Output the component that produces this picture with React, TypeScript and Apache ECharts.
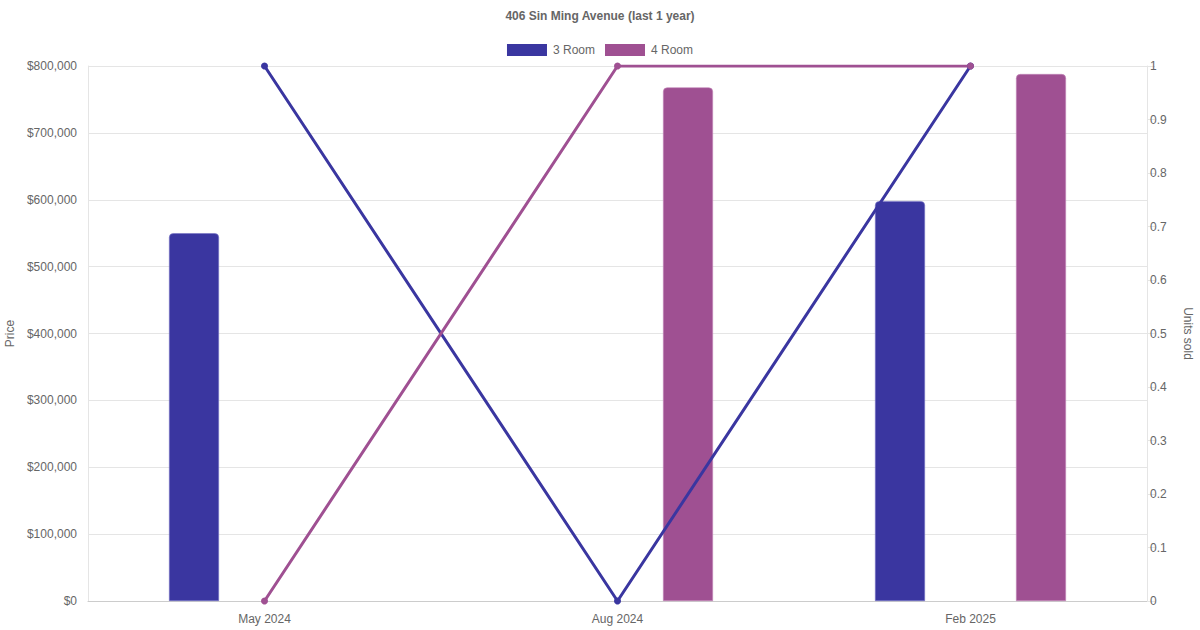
import React, { useEffect, useRef } from "react";
import * as echarts from "echarts";

const categories = ["May 2024", "Aug 2024", "Feb 2025"];
const price3Room: (number | null)[] = [550000, null, 598000];
const price4Room: (number | null)[] = [null, 768000, 788000];
const units3Room = [1, 0, 1];
const units4Room = [0, 1, 1];
const seriesNames = ["3 Room", "4 Room"];

const BLUE = "#3a36a0";
const PURPLE = "#9f5092";
const FONT = "'Liberation Sans', Arial, Helvetica, sans-serif";

export default function App() {
  const ref = useRef<HTMLDivElement>(null);
  useEffect(() => {
    document.body.style.margin = "0";
    if (!ref.current) return;
    const chart = echarts.init(ref.current, undefined, { renderer: "svg" });
    chart.setOption({
      animation: false,
      textStyle: { fontFamily: FONT },
      title: {
        text: "406 Sin Ming Avenue (last 1 year)",
        left: "center",
        top: 5,
        textStyle: { fontSize: 12, fontWeight: "bold", color: "#666", fontFamily: FONT },
      },
      legend: {
        top: 39,
        left: "center",
        itemWidth: 40,
        itemHeight: 12,
        itemGap: 10,
        icon: "rect",
        data: seriesNames,
        itemStyle: { borderWidth: 0 },
        textStyle: { fontSize: 12, color: "#666", fontFamily: FONT, padding: [0, 0, 0, 1] },
      },
      grid: { left: 88, right: 53, top: 66, bottom: 29, containLabel: false, outerBoundsMode: "none" },
      xAxis: {
        type: "category",
        data: categories,
        boundaryGap: true,
        axisLine: { show: true, lineStyle: { color: "#cccccc" } },
        axisTick: { show: false },
        axisLabel: { color: "#666", fontSize: 12, margin: 12, fontFamily: FONT },
        splitLine: { show: false },
      },
      yAxis: [
        {
          type: "value",
          min: 0,
          max: 800000,
          interval: 100000,
          name: "Price",
          nameLocation: "middle",
          nameGap: 71,
          nameRotate: 90,
          nameTextStyle: { color: "#666", fontSize: 12, fontFamily: FONT },
          axisLine: { show: true, lineStyle: { color: "#e5e5e5" } },
          axisTick: { show: false },
          axisLabel: {
            color: "#666",
            fontSize: 12,
            margin: 11,
            fontFamily: FONT,
            formatter: (v: number) => "$" + v.toLocaleString("en-US"),
          },
          splitLine: { show: true, lineStyle: { color: "#e5e5e5" } },
        },
        {
          type: "value",
          min: 0,
          max: 1,
          interval: 0.1,
          position: "right",
          name: "Units sold",
          nameLocation: "middle",
          nameGap: 35,
          nameRotate: -90,
          nameTextStyle: { color: "#666", fontSize: 12, fontFamily: FONT },
          axisLine: { show: true, lineStyle: { color: "#e5e5e5" } },
          axisTick: { show: true, length: 8, lineStyle: { color: "#e5e5e5" } },
          axisLabel: {
            color: "#666",
            fontSize: 12,
            margin: 3,
            fontFamily: FONT,
            formatter: (v: number) => String(Math.round(v * 10) / 10),
          },
          splitLine: { show: false },
        },
      ],
      series: [
        {
          name: seriesNames[0],
          type: "bar",
          yAxisIndex: 0,
          data: price3Room,
          barWidth: 50,
          barGap: "182%",
          itemStyle: { color: BLUE, borderRadius: [4, 4, 0, 0], borderColor: "#7572c4", borderWidth: 0.6 },
          z: 2,
        },
        {
          name: seriesNames[1],
          type: "bar",
          yAxisIndex: 0,
          data: price4Room,
          barWidth: 50,
          barGap: "182%",
          itemStyle: { color: PURPLE, borderRadius: [4, 4, 0, 0], borderColor: "#c286b8", borderWidth: 0.6 },
          z: 2,
        },
        {
          name: seriesNames[0],
          type: "line",
          yAxisIndex: 1,
          data: units3Room,
          symbol: "circle",
          symbolSize: 7,
          lineStyle: { color: BLUE, width: 3 },
          itemStyle: { color: BLUE },
          z: 3,
        },
        {
          name: seriesNames[1],
          type: "line",
          yAxisIndex: 1,
          data: units4Room,
          symbol: "circle",
          symbolSize: 7,
          lineStyle: { color: PURPLE, width: 3 },
          itemStyle: { color: PURPLE },
          z: 3,
        },
      ],
    });
    return () => chart.dispose();
  }, []);
  return <div ref={ref} style={{ width: 1200, height: 630 }} />;
}
